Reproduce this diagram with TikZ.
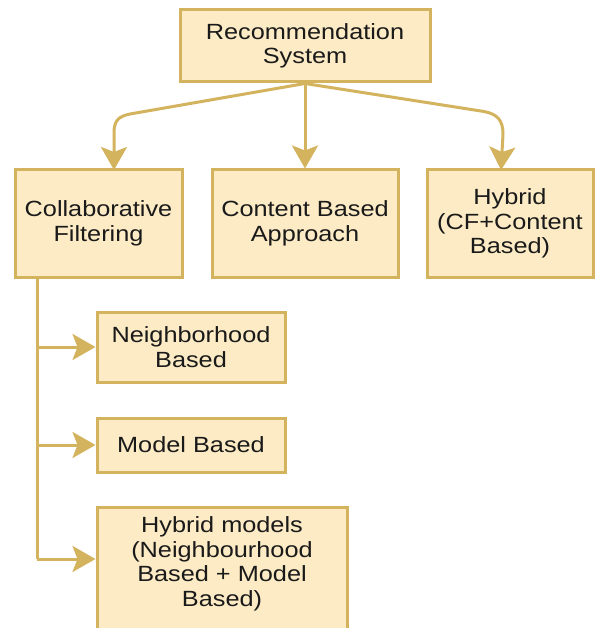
\documentclass[tikz,border=0pt]{standalone}
\usepackage{fontspec}
\setmainfont{Liberation Sans}[FakeStretch=1.15]
\usetikzlibrary{arrows.meta}
\definecolor{boxline}{HTML}{D4B35E}
\definecolor{boxfill}{HTML}{FCEBC4}
\definecolor{ink}{HTML}{1A1A1A}
\begin{document}
\begin{tikzpicture}[x=1pt,y=-1pt,
  box/.style={draw=boxline, fill=boxfill, line width=3pt, inner sep=0pt,
    align=center, text=ink, font=\fontsize{22}{24.5}\selectfont},
  link/.style={draw=boxline, line width=3pt},
  arr/.style={link, -{Stealth[length=23pt,width=26pt,inset=5pt]}}]
\useasboundingbox (0,0) rectangle (597,628);
\clip (0,0) rectangle (597,628);

% top level
\node[box, minimum width=250pt, minimum height=72pt] (rs) at (305,46)
  {Recommendation\\System};

% three families
\node[box, minimum width=167pt, minimum height=107pt] (cf) at (98.5,223.5)
  {Collaborative\\Filtering};
\node[box, minimum width=186pt, minimum height=107pt] (cb) at (305,223.5)
  {Content Based\\Approach};
\node[box, minimum width=166pt, minimum height=107pt] (hy) at (510,223.5)
  {Hybrid\\(CF+Content\\Based)};

% collaborative filtering subtypes
\node[box, minimum width=188pt, minimum height=70pt] (nb) at (191,347)
  {Neighborhood\\Based};
\node[box, minimum width=188pt, minimum height=54pt] (mb) at (191,445)
  {Model Based};
\node[box, minimum width=250pt, minimum height=140pt,
  label={[align=center, text=ink, font=\fontsize{22}{24.5}\selectfont,
          yshift=13pt]center:Hybrid models\\(Neighbourhood\\Based + Model\\Based)}]
  (hm) at (222,577) {};

% connectors from the root
\draw[arr] (rs.south) -- (130,114)
  .. controls (118,116.5) and (114,121) .. (114,133) -- (114,170)
  coordinate (cftop);
\draw[arr] (rs.south) -- (cb.north);
\draw[arr] (rs.south) -- (484,111.5)
  .. controls (497,114) and (503,120) .. (503,134) -- (501,170)
  coordinate (hytop);

% trunk down the left side
\coordinate (trunkend) at (37,559);
\draw[link] (cf.south -| trunkend) -- (trunkend);
\draw[arr] (nb.west -| trunkend) -- (nb.west);
\draw[arr] (mb.west -| trunkend) -- (mb.west);
\draw[arr] (trunkend) -- (trunkend -| hm.west);
\end{tikzpicture}
\end{document}
